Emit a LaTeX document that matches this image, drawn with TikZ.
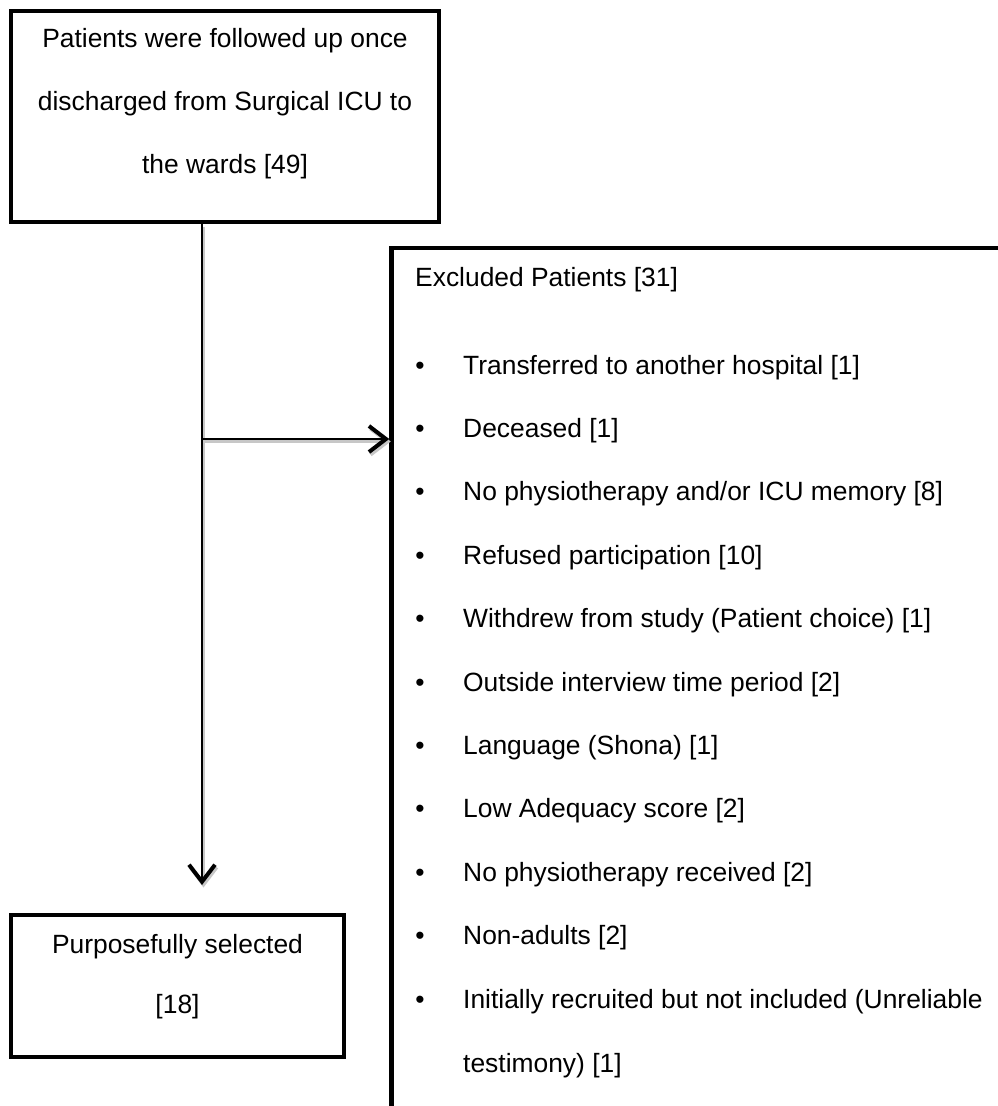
\documentclass[tikz,border=0pt]{standalone}
\usepackage{fontspec}
\setmainfont{Liberation Sans}
\usetikzlibrary{arrows.meta}
\begin{document}
\begin{tikzpicture}[x=1pt,y=-1pt,
  box/.style={draw=black,line width=4.5pt,rectangle,inner sep=0pt,fill=white},
  txt/.style={anchor=base,inner sep=0pt,font=\fontsize{26.4}{26.4}\selectfont},
  ltxt/.style={txt,anchor=base west},
  conn/.style={line width=2.5pt,-{Straight Barb[length=17pt,width=26pt,line width=4pt]}},
  shadowconn/.style={conn,draw=black!22,transform canvas={shift={(1.5pt,-2.5pt)}}}]
\useasboundingbox (0,0) rectangle (998,1106);
\clip (0,0) rectangle (998,1106);
\fill[white] (0,0) rectangle (998,1106);
% boxes
\node[box,minimum width=428pt,minimum height=211pt] (top) at (225,116.5) {};
\node[box,minimum width=333pt,minimum height=142pt] (bot) at (177.5,986) {};
\node[box,minimum width=640pt,minimum height=900pt] (excl) at (711.5,698) {};
% connectors
\coordinate (vend) at (202,885);
\coordinate (hstart) at (202,439);
\draw[shadowconn] (vend |- top.south) -- (vend);
\draw[shadowconn] (hstart) -- (hstart -| excl.west);
\draw[conn] (vend |- top.south) -- (vend);
\draw[conn] (hstart) -- (hstart -| excl.west);
% top box text
\node[txt] (t1) at (225,47) {Patients were followed up once};
\node[txt] (t2) at (225,110) {discharged from Surgical ICU to};
\node[txt] (t3) at (225,173) {the wards [49]};
% bottom box text
\node[txt] (b1) at (177.5,953) {Purposefully selected};
\node[txt] (b2) at (177.5,1013) {[18]};
% excluded box text
\node[ltxt] (e0) at (415,286) {Excluded Patients [31]};
\foreach \i/\t in {0/{Transferred to another hospital [1]},
  1/{Deceased [1]},
  2/{No physiotherapy and/or ICU memory [8]},
  3/{Refused participation [10]},
  4/{Withdrew from study (Patient choice) [1]},
  5/{Outside interview time period [2]},
  6/{Language (Shona) [1]},
  7/{Low Adequacy score [2]},
  8/{No physiotherapy received [2]},
  9/{Non-adults [2]},
  10/{Initially recruited but not included (Unreliable}}{
  \node[txt] (bul\i) at (420,374+63.4*\i) {•};
  \node[ltxt] (item\i) at (463,374+63.4*\i) {\t};
}
\node[ltxt] (item11) at (463,1072) {testimony) [1]};
\end{tikzpicture}
\end{document}
